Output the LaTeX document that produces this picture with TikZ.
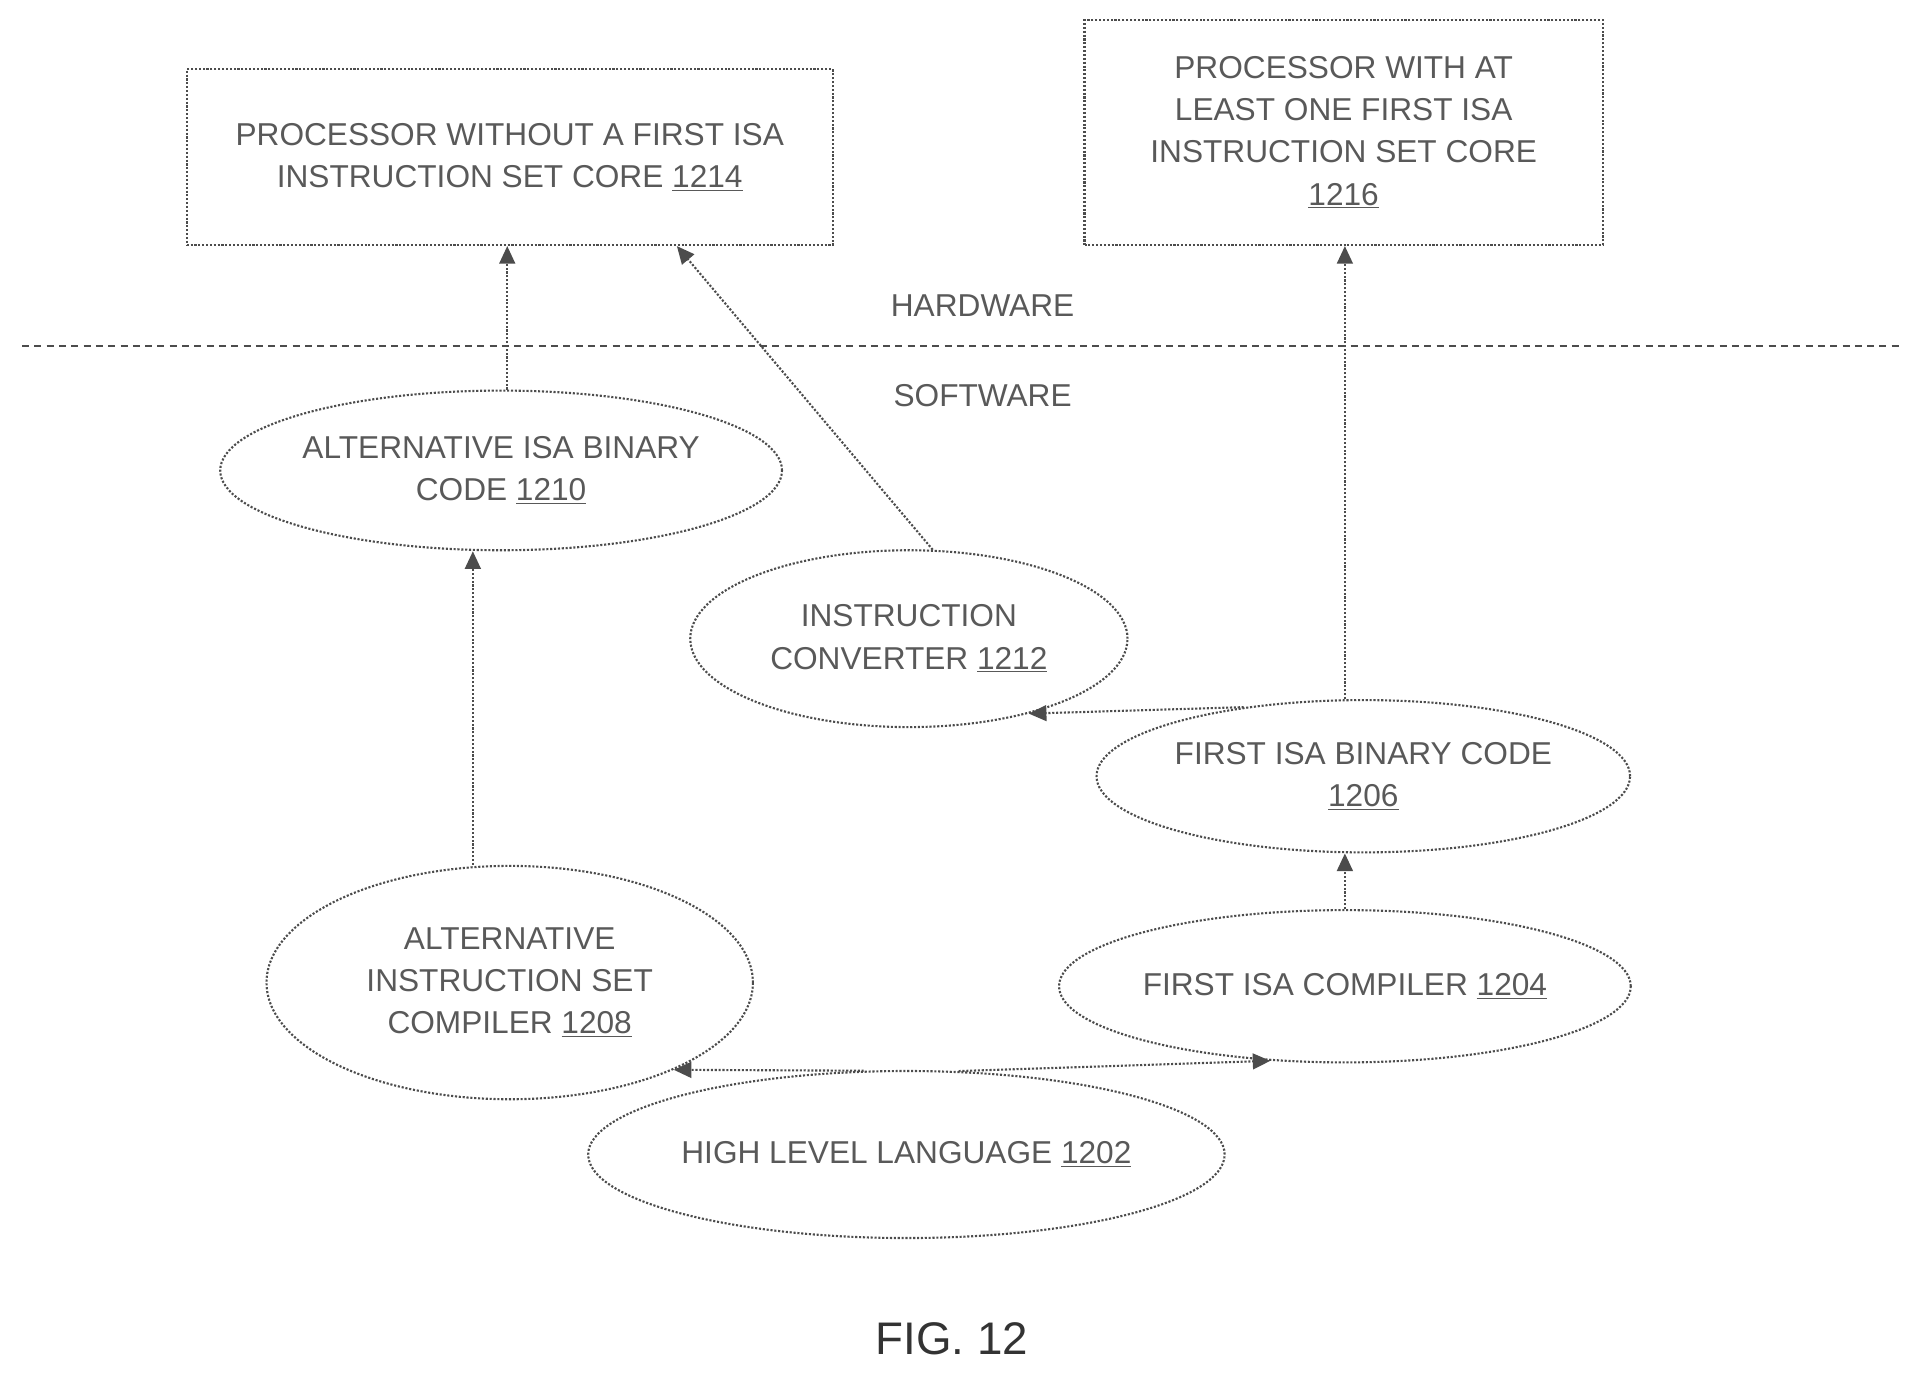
\documentclass[tikz,border=0pt]{standalone}
\usepackage{fontspec}
\setmainfont{Liberation Sans}
\usetikzlibrary{shapes.geometric,arrows.meta}
\tikzset{
  line/.style={densely dotted, line width=1.2pt, black!70},
  box/.style={line, draw, rectangle, align=center, text=black!65},
  oval/.style={line, draw, ellipse, inner sep=0pt, align=center, text=black!65},
  arr/.style={line, -{Triangle[length=10pt,width=9pt]}}
}
\begin{document}
\begin{tikzpicture}[x=0.02456cm, y=-0.02456cm, font=\fontsize{18}{24}\selectfont]
  \useasboundingbox (0,0) rectangle (1560,1120);
  % hardware
  \node [box, minimum width=526*0.02456cm, minimum height=143*0.02456cm] (n1214) at (415,128)
    {PROCESSOR WITHOUT A FIRST ISA\\INSTRUCTION SET CORE \underline{1214}};
  \node [box, minimum width=422*0.02456cm, minimum height=183*0.02456cm] (n1216) at (1094,108)
    {PROCESSOR WITH AT\\LEAST ONE FIRST ISA\\INSTRUCTION SET CORE\\\underline{1216}};
  \node [text=black!65] (hw) at (800,249) {HARDWARE};
  \coordinate (l0) at (18,282);
  \coordinate (l1) at (1550,282);
  \draw [line, dashed, dash pattern=on 4pt off 3pt] (l0) -- (l1);
  \node [text=black!65] (sw) at (800,322) {SOFTWARE};
  % software
  \node [oval, minimum width=410*0.02456cm, minimum height=130*0.02456cm] (n1210) at (408,383)
    {ALTERNATIVE ISA BINARY\\CODE \underline{1210}};
  \node [oval, minimum width=356*0.02456cm, minimum height=144*0.02456cm] (n1212) at (740,520)
    {INSTRUCTION\\CONVERTER \underline{1212}};
  \node [oval, minimum width=430*0.02456cm, minimum height=124*0.02456cm] (n1206) at (1110,632)
    {FIRST ISA BINARY CODE\\\underline{1206}};
  \node [oval, minimum width=396*0.02456cm, minimum height=190*0.02456cm] (n1208) at (415,800)
    {ALTERNATIVE\\INSTRUCTION SET\\COMPILER \underline{1208}};
  \node [oval, minimum width=380*0.02456cm, minimum height=124*0.02456cm] (n1204) at (1095,803)
    {FIRST ISA COMPILER \underline{1204}};
  \node [oval, minimum width=430*0.02456cm, minimum height=136*0.02456cm] (n1202) at (738,940)
    {HIGH LEVEL LANGUAGE \underline{1202}};
  \node [font=\fontsize{26}{30}\selectfont, text=black!80] (fig) at (775,1090) {FIG. 12};
  % connectors
  \draw [arr] (n1202.117) -- (n1208.-28);
  \draw [arr] (n1202.58) -- (n1204.-135);
  \draw [arr] (n1208.north -| 385,0) -- (n1210.south -| 385,0);
  \draw [arr] (n1210.north -| 413,0) -- (n1214.south -| 413,0);
  \draw [arr] (n1212.75) -- (n1214.-28);
  \draw [arr] (n1206.150) -- (n1212.-32);
  \draw [arr] (n1204.north) -- (n1206.south -| n1204.north);
  \draw [arr] (n1206.north -| 1095,0) -- (n1216.south -| 1095,0);
\end{tikzpicture}
\end{document}
